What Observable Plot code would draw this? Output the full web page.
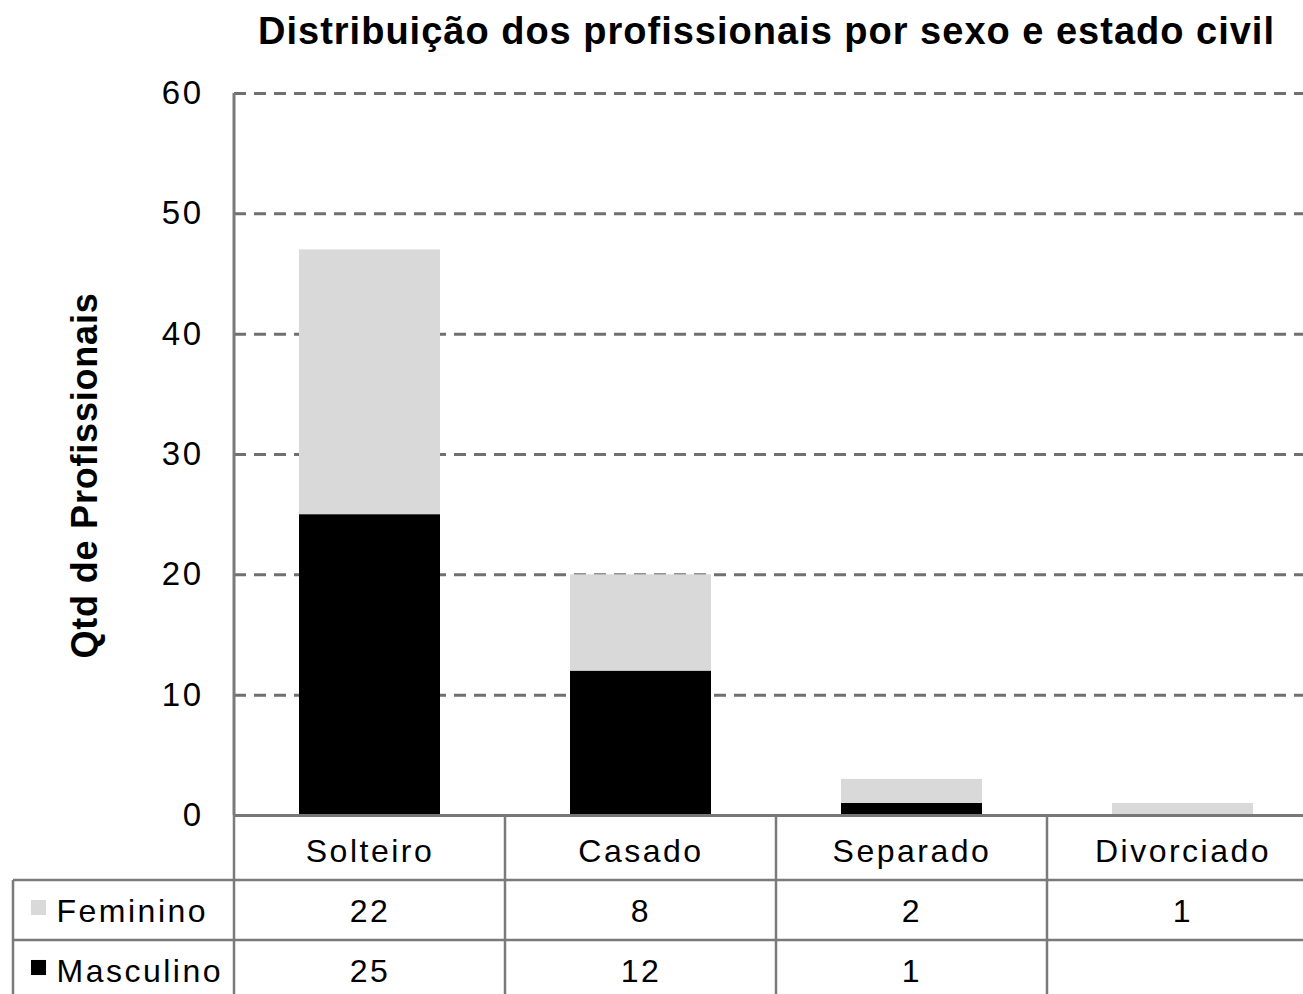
<!DOCTYPE html>
<html><head><meta charset="utf-8">
<script src="https://cdn.jsdelivr.net/npm/d3@7"></script>
<script src="https://cdn.jsdelivr.net/npm/@observablehq/plot@0.6"></script>
<style>
body{margin:0;background:#fff;font-family:"Liberation Sans",Arial,sans-serif;overflow:hidden;}
#title{height:60px;box-sizing:border-box;padding-left:230px;text-align:center;font-weight:bold;font-size:38px;letter-spacing:1px;line-height:62px;color:#000;white-space:nowrap;}
#chart svg text{letter-spacing:2.5px;}
#chart svg g.ylabel text{letter-spacing:0.8px;}
</style></head><body>
<div id="title">Distribuição dos profissionais por sexo e estado civil</div>
<div id="chart"></div>
<script>
const categories = ["Solteiro", "Casado", "Separado", "Divorciado"];
const series = ["Feminino", "Masculino"];
const feminino = [22, 8, 2, 1];
const masculino = [25, 12, 1, null];
const yTicks = [0, 10, 20, 30, 40, 50, 60];
const colors = ["#d9d9d9", "#000000"];

const rows = [];
categories.forEach((c, i) => { if (masculino[i] != null) rows.push({cat: c, sex: "Masculino", value: masculino[i]}); });
categories.forEach((c, i) => { if (feminino[i] != null) rows.push({cat: c, sex: "Feminino", value: feminino[i]}); });

const FONT = '"Liberation Sans", Arial, sans-serif';
const FS = 32;
const W = 1303, H = 934;
const rowDy = {cat: 36, Feminino: 96, Masculino: 156};
const txt = {fontSize: FS, fill: "#000", lineAnchor: "middle"};

const marks = [
  Plot.gridY(yTicks, {stroke: "#707070", strokeOpacity: 1, strokeWidth: 3, strokeDasharray: "12,8"}),
  Plot.barY(rows, {x: "cat", y: "value", fill: "sex"}),
  Plot.ruleY([0], {stroke: "#777", strokeWidth: 3}),
  Plot.axisY(yTicks, {tickSize: 0, tickPadding: 31, fontSize: 33, label: null, fill: "#000"}),
  Plot.text(["Qtd de Profissionais"], {frameAnchor: "left", text: d => d, rotate: -90, textAnchor: "middle", dx: -149, dy: 21, fontWeight: "bold", fontSize: 36, fill: "#000", lineAnchor: "middle", className: "ylabel"}),
  Plot.text(categories, {x: d => d, text: d => d, frameAnchor: "bottom", dy: rowDy.cat, ...txt}),
  Plot.text(categories, {x: d => d, text: (d, i) => feminino[i] ?? "", frameAnchor: "bottom", dy: rowDy.Feminino, ...txt}),
  Plot.text(categories, {x: d => d, text: (d, i) => masculino[i] ?? "", frameAnchor: "bottom", dy: rowDy.Masculino, ...txt})
];
series.forEach(s => {
  marks.push(Plot.dot([s], {frameAnchor: "bottom-left", fill: d => d, symbol: "square", r: 8.5, dx: -196, dy: rowDy[s] - 4}));
  marks.push(Plot.text([s], {frameAnchor: "bottom-left", text: d => d, textAnchor: "start", dx: -178, dy: rowDy[s], ...txt}));
});

const plot = Plot.plot({
  width: W, height: H,
  marginTop: 33, marginBottom: 179, marginLeft: 234, marginRight: -15,
  style: {fontFamily: FONT, fontSize: FS + "px", color: "#000", background: "#fff", overflow: "hidden"},
  x: {domain: categories, paddingInner: 0.48, paddingOuter: 0.24, axis: null},
  y: {domain: [0, 60], axis: null},
  color: {domain: series, range: colors},
  marks
});
document.getElementById("chart").appendChild(plot);

// table grid & y-axis line, positioned from the plot's own scales
const svg = d3.select(plot);
const xs = plot.scale("x"), ys = plot.scale("y");
const y0 = ys.apply(0), yTop = ys.apply(60);
const half = (xs.step - xs.bandwidth) / 2;
const edges = categories.map(c => xs.apply(c) - half);
edges.push(edges[edges.length - 1] + xs.step);
const g = svg.append("g").attr("stroke", "#7a7a7a").attr("stroke-width", 2.5).attr("fill", "none");
g.append("line").attr("x1", edges[0]).attr("x2", edges[0]).attr("y1", yTop).attr("y2", y0).attr("stroke-width", 3);
edges.forEach(x => g.append("line").attr("x1", x).attr("x2", x).attr("y1", y0).attr("y2", H));
const leftX = edges[0] - 221;
const r1 = y0 + 65, r2 = y0 + 125;
g.append("line").attr("x1", leftX).attr("x2", leftX).attr("y1", r1).attr("y2", H);
[r1, r2].forEach(y => g.append("line").attr("x1", leftX).attr("x2", W).attr("y1", y).attr("y2", y));
</script>
</body></html>
